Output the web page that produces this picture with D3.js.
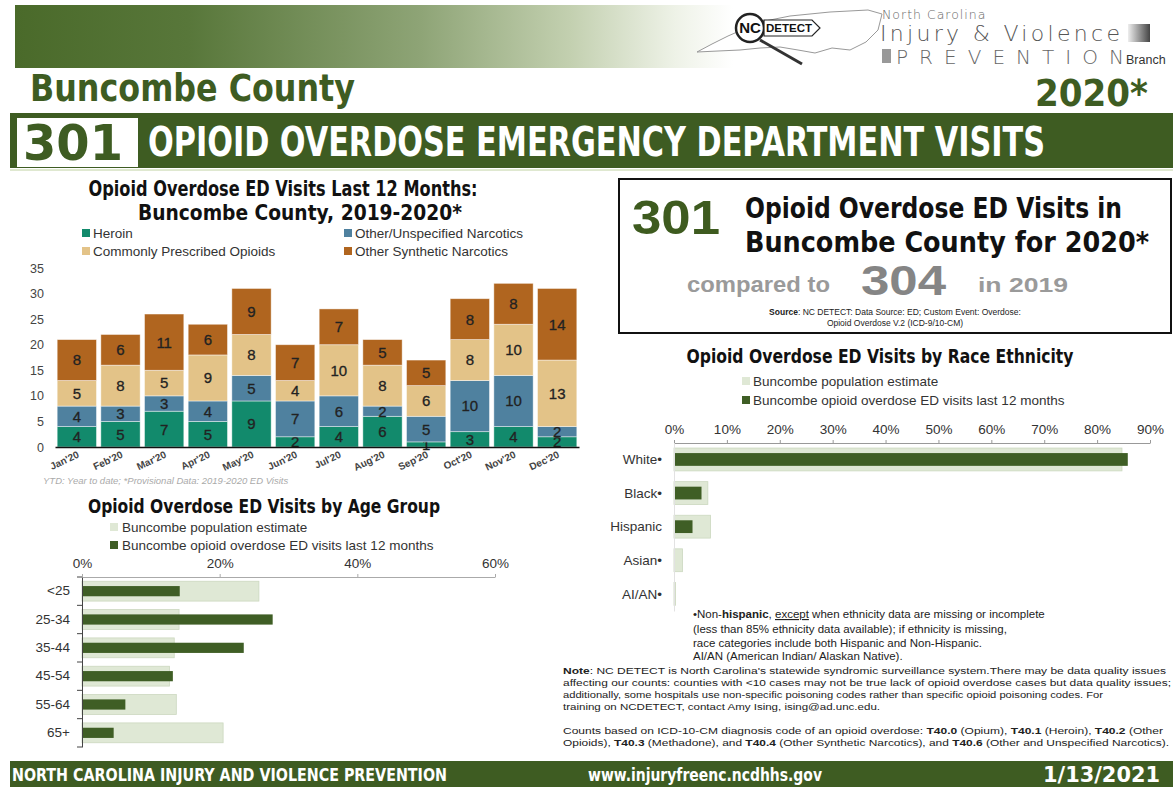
<!DOCTYPE html>
<html>
<head>
<meta charset="utf-8">
<script src="https://cdn.jsdelivr.net/npm/d3@7"></script>
<style>
html,body{margin:0;padding:0;background:#fff;}
svg{display:block;}
.cond{font-family:"Liberation Sans Narrow","DejaVu Sans Condensed",sans-serif;font-weight:bold;}
.sans{font-family:"Liberation Sans",Arial,sans-serif;}
.thin{font-family:"DejaVu Sans",sans-serif;font-weight:200;}
</style>
</head>
<body>
<svg id="page" width="1173" height="787"></svg>
<script>
// ---------- DATA ----------
const months = ["Jan'20","Feb'20","Mar'20","Apr'20","May'20","Jun'20","Jul'20","Aug'20","Sep'20","Oct'20","Nov'20","Dec'20"];
const heroin      = [4,5,7,5,9,2,4,6,1,3,4,2];
const otherUnspec = [4,3,3,4,5,7,6,2,5,10,10,2];
const commonRx    = [5,8,5,9,8,4,10,8,6,8,10,13];
const otherSynth  = [8,6,11,6,9,7,7,5,5,8,8,14];
const seriesNames = ["Heroin","Other/Unspecified Narcotics","Commonly Prescribed Opioids","Other Synthetic Narcotics"];
const countTicks  = [0,5,10,15,20,25,30,35];

const ageGroups = ["<25","25-34","35-44","45-54","55-64","65+"];
const agePop    = [25.7,14.1,13.4,12.7,13.7,20.5];
const ageVisits = [14.2,27.7,23.5,13.2,6.3,4.6];
const ageTicks  = [0,20,40,60];

const races      = ["White•","Black•","Hispanic","Asian•","AI/AN•"];
const racePop    = [84.7,6.4,6.9,1.6,0.3];
const raceVisits = [85.8,5.2,3.5,0,0.1];
const raceTicks  = [0,10,20,30,40,50,60,70,80,90];

const total2020 = 301, total2019 = 304;

// ---------- STYLE ----------
const GREEN = "#3e5c22";
const seriesColors = ["#128a6c","#4f819f","#e3c388","#b0651f"];
const LIGHT = "#dfe8d5", LIGHT_STROKE = "#cbd8bf", DARK = "#3f5e25";

const svg = d3.select("#page");

// ---------- HEADER ----------
const defs = svg.append("defs");
const grad = defs.append("linearGradient").attr("id","hdr").attr("x1","0").attr("x2","1");
[["0%","#4a6a2a"],["15%","#58773a"],["35%","#8ea476"],["48%","#c3d0b0"],["57%","#eef2e7"],["62%","#ffffff"]]
  .forEach(s=>grad.append("stop").attr("offset",s[0]).attr("stop-color",s[1]));
svg.append("rect").attr("x",15).attr("y",5).attr("width",1158).attr("height",63).attr("fill","url(#hdr)");

// logo (approximate)
const logo = svg.append("g");
logo.append("path")
  .attr("d","M697,52 L712,44 L728,36 L744,29 L760,22 L790,16 L830,12 L868,10 L882,14 L878,30 L866,42 L850,50 L832,48 L815,53 L798,50 L780,47 L760,48 L740,50 L718,51 Z")
  .attr("fill","#fff").attr("stroke","#999").attr("stroke-width",1);
logo.append("line").attr("x1",760).attr("y1",40).attr("x2",802).attr("y2",64).attr("stroke","#333").attr("stroke-width",3);
logo.append("circle").attr("cx",750).attr("cy",28).attr("r",14).attr("fill","#fff").attr("stroke","#222").attr("stroke-width",2.5);
logo.append("text").attr("class","sans").attr("x",750).attr("y",33).attr("text-anchor","middle")
  .attr("font-size",15).attr("font-weight","bold").attr("fill","#111").text("NC");
logo.append("path").attr("d","M764,20 L812,20 L820,28 L812,36 L764,36 Z").attr("fill","#fff").attr("stroke","#222").attr("stroke-width",1.2);
logo.append("text").attr("class","sans").attr("x",766).attr("y",32).attr("font-size",11).attr("font-weight","bold")
  .attr("fill","#111").attr("textLength",46).attr("lengthAdjust","spacingAndGlyphs").text("DETECT");
logo.append("text").attr("class","thin").attr("x",882).attr("y",19).attr("font-size",12.5).attr("fill","#666")
  .attr("letter-spacing",1).text("North Carolina");
logo.append("text").attr("class","thin").attr("x",880).attr("y",41).attr("font-size",22).attr("fill","#555")
  .attr("textLength",240).attr("lengthAdjust","spacing").text("Injury & Violence");
const sq = defs.append("linearGradient").attr("id","sq").attr("x1","0").attr("x2","1");
sq.append("stop").attr("offset","0%").attr("stop-color","#eee");
sq.append("stop").attr("offset","100%").attr("stop-color","#444");
logo.append("rect").attr("x",1128).attr("y",24).attr("width",22).attr("height",18).attr("fill","url(#sq)");
logo.append("rect").attr("x",882).attr("y",49).attr("width",9).attr("height",14).attr("fill","#999");
logo.append("text").attr("class","thin").attr("x",896).attr("y",64).attr("font-size",20).attr("fill","#666")
  .attr("textLength",228).attr("lengthAdjust","spacing").text("PREVENTION");
logo.append("text").attr("class","sans").attr("x",1126).attr("y",64).attr("font-size",12.5).attr("fill","#333").text("Branch");

svg.append("text").attr("class","cond").attr("x",30).attr("y",101).attr("font-size",37).attr("fill",GREEN)
  .attr("textLength",325).attr("lengthAdjust","spacingAndGlyphs").text("Buncombe County");
svg.append("text").attr("class","cond").attr("x",1148).attr("y",106).attr("text-anchor","end").attr("font-size",38).attr("fill",GREEN)
  .attr("textLength",113).attr("lengthAdjust","spacingAndGlyphs").text("2020*");

svg.append("rect").attr("x",10).attr("y",113).attr("width",1163).attr("height",55).attr("fill",GREEN);
svg.append("rect").attr("x",17).attr("y",118).attr("width",121).attr("height",49).attr("fill","#fff");
svg.append("text").attr("class","cond").attr("x",23).attr("y",160).attr("font-size",50).attr("fill",GREEN)
  .attr("textLength",100).attr("lengthAdjust","spacingAndGlyphs").text(String(total2020));
svg.append("text").attr("class","cond").attr("x",148).attr("y",156).attr("font-size",40).attr("fill","#fff")
  .attr("textLength",897).attr("lengthAdjust","spacingAndGlyphs").text("OPIOID OVERDOSE EMERGENCY DEPARTMENT VISITS");
svg.append("line").attr("x1",10).attr("x2",1173).attr("y1",170).attr("y2",170).attr("stroke","#dfe8d0").attr("stroke-width",2);

// ---------- STACKED BAR CHART ----------
const bc = svg.append("g");
bc.append("text").attr("class","cond").attr("x",283).attr("y",196).attr("text-anchor","middle").attr("font-size",21)
  .attr("fill","#111").attr("textLength",389).attr("lengthAdjust","spacingAndGlyphs").text("Opioid Overdose ED Visits Last 12 Months:");
bc.append("text").attr("class","cond").attr("x",300).attr("y",220).attr("text-anchor","middle").attr("font-size",21)
  .attr("fill","#111").attr("textLength",324).attr("lengthAdjust","spacingAndGlyphs").text("Buncombe County, 2019-2020*");

const legPos = [[82,233],[344,233],[82,251],[344,251]];
seriesNames.forEach((n,i)=>{
  bc.append("rect").attr("x",legPos[i][0]).attr("y",legPos[i][1]-4).attr("width",8).attr("height",8).attr("fill",seriesColors[i]);
  bc.append("text").attr("class","sans").attr("x",legPos[i][0]+11).attr("y",legPos[i][1]).attr("dy","0.35em")
    .attr("font-size",13.5).attr("fill","#333").text(n);
});

const table = months.map((m,i)=>({month:m, s0:heroin[i], s1:otherUnspec[i], s2:commonRx[i], s3:otherSynth[i]}));
const stack = d3.stack().keys(["s0","s1","s2","s3"])(table);
const x = d3.scaleBand().domain(months).range([55,579]).paddingInner(0.1).paddingOuter(0.05);
const y = d3.scaleLinear().domain([0,35]).range([447,268]);

stack.forEach((layer,li)=>{
  const g = bc.append("g");
  g.selectAll("rect").data(layer).join("rect")
    .attr("x",d=>x(d.data.month)).attr("width",x.bandwidth())
    .attr("y",d=>y(d[1])).attr("height",d=>y(d[0])-y(d[1]))
    .attr("fill",seriesColors[li]).attr("stroke","rgba(255,255,255,0.55)").attr("stroke-width",0.8);
  g.selectAll("text").data(layer).join("text").attr("class","sans")
    .attr("x",d=>x(d.data.month)+x.bandwidth()/2).attr("y",d=>(y(d[0])+y(d[1]))/2).attr("dy","0.36em")
    .attr("text-anchor","middle").attr("font-size",15).attr("fill","#222")
    .attr("stroke","#222").attr("stroke-width",0.3)
    .text(d=>d[1]-d[0]);
});

const yAx = bc.append("g").attr("transform","translate(50,0)")
  .call(d3.axisLeft(y).tickValues(countTicks).tickSize(0).tickPadding(6));
yAx.select(".domain").remove();
yAx.selectAll("text").attr("class","sans").attr("font-size",12.5).attr("fill","#444");

const xAx = bc.append("g").attr("transform","translate(0,447)")
  .call(d3.axisBottom(x).tickSize(0).tickPadding(0));
xAx.select(".domain").attr("stroke","#111").attr("stroke-width",1.6);
xAx.selectAll("text").attr("class","sans").attr("font-size",10).attr("font-weight","bold").attr("fill","#444")
  .attr("text-anchor","end").attr("dy",0)
  .attr("transform","translate(3,10) rotate(-25)");

bc.append("text").attr("class","sans").attr("x",43).attr("y",484).attr("font-size",9.5).attr("font-style","italic")
  .attr("fill","#aaa").text("YTD: Year to date; *Provisional Data: 2019-2020 ED Visits");

// ---------- AGE CHART ----------
const ac = svg.append("g");
ac.append("text").attr("class","cond").attr("x",264).attr("y",513).attr("text-anchor","middle").attr("font-size",19)
  .attr("fill","#111").attr("textLength",352).attr("lengthAdjust","spacingAndGlyphs").text("Opioid Overdose ED Visits by Age Group");
ac.append("rect").attr("x",110).attr("y",523).attr("width",8).attr("height",8).attr("fill",LIGHT);
ac.append("text").attr("class","sans").attr("x",122).attr("y",527).attr("dy","0.35em").attr("font-size",13.5).attr("fill","#333").text("Buncombe population estimate");
ac.append("rect").attr("x",110).attr("y",541).attr("width",8).attr("height",8).attr("fill",DARK);
ac.append("text").attr("class","sans").attr("x",122).attr("y",545).attr("dy","0.35em").attr("font-size",13.5).attr("fill","#333").text("Buncombe opioid overdose ED visits last 12 months");

const ax = d3.scaleLinear().domain([0,60]).range([82,495]);
const ay = d3.scaleBand().domain(ageGroups).range([577,747]);

ac.selectAll("rect.pop").data(ageGroups).join("rect").attr("class","pop")
  .attr("x",ax(0)).attr("y",d=>ay(d)+ay.bandwidth()*0.15).attr("height",ay.bandwidth()*0.7)
  .attr("width",(d,i)=>ax(agePop[i])-ax(0)).attr("fill",LIGHT).attr("stroke",LIGHT_STROKE).attr("stroke-width",0.8);
ac.selectAll("rect.vis").data(ageGroups).join("rect").attr("class","vis")
  .attr("x",ax(0)).attr("y",d=>ay(d)+ay.bandwidth()*0.32).attr("height",ay.bandwidth()*0.36)
  .attr("width",(d,i)=>ax(ageVisits[i])-ax(0)).attr("fill",DARK);

const aTop = ac.append("g").attr("transform","translate(0,577)")
  .call(d3.axisTop(ax).tickValues(ageTicks).tickFormat(d=>d+"%").tickSize(3).tickSizeOuter(0).tickPadding(6));
aTop.select(".domain").attr("stroke","#aaa");
aTop.selectAll(".tick line").attr("stroke","#aaa");
aTop.selectAll("text").attr("class","sans").attr("font-size",13.5).attr("fill","#333");

const aLeft = ac.append("g").attr("transform","translate(82,0)")
  .call(d3.axisLeft(ay).tickSize(0).tickPadding(12));
aLeft.select(".domain").attr("stroke","#444");
aLeft.selectAll("text").attr("class","sans").attr("font-size",13.5).attr("fill","#333");
ac.selectAll("line.atick").data(ageGroups.concat(["end"])).join("line").attr("class","atick")
  .attr("x1",77).attr("x2",82)
  .attr("y1",(d,i)=>ay.range()[0]+i*ay.step()).attr("y2",(d,i)=>ay.range()[0]+i*ay.step())
  .attr("stroke","#444");

// ---------- SUMMARY BOX ----------
const sb = svg.append("g");
sb.append("rect").attr("x",619).attr("y",179).attr("width",552).attr("height",154).attr("fill","#fff").attr("stroke","#111").attr("stroke-width",2);
sb.append("text").attr("class","sans").attr("x",632).attr("y",234).attr("font-size",48).attr("font-weight","bold").attr("fill","#3e5b1f")
  .attr("textLength",88).attr("lengthAdjust","spacingAndGlyphs").text(String(total2020));
sb.append("text").attr("class","cond").attr("x",745).attr("y",218).attr("font-size",28).attr("fill","#111")
  .attr("textLength",377).attr("lengthAdjust","spacingAndGlyphs").text("Opioid Overdose ED Visits in");
sb.append("text").attr("class","cond").attr("x",745).attr("y",252).attr("font-size",28).attr("fill","#111")
  .attr("textLength",404).attr("lengthAdjust","spacingAndGlyphs").text("Buncombe County for 2020*");
sb.append("text").attr("class","sans").attr("x",687).attr("y",292).attr("font-size",22).attr("font-weight","bold").attr("fill","#9a9a9a")
  .attr("textLength",143).attr("lengthAdjust","spacingAndGlyphs").text("compared to");
sb.append("text").attr("class","sans").attr("x",861).attr("y",295).attr("font-size",42).attr("font-weight","bold").attr("fill","#858585")
  .attr("textLength",85).attr("lengthAdjust","spacingAndGlyphs").text(String(total2019));
sb.append("text").attr("class","sans").attr("x",978).attr("y",292).attr("font-size",21).attr("font-weight","bold").attr("fill","#9a9a9a")
  .attr("textLength",90).attr("lengthAdjust","spacingAndGlyphs").text("in 2019");
const src = sb.append("text").attr("class","sans").attr("x",895).attr("y",315).attr("text-anchor","middle").attr("font-size",8.5).attr("fill","#222");
src.append("tspan").attr("font-weight","bold").text("Source");
src.append("tspan").text(": NC DETECT: Data Source: ED; Custom Event: Overdose:");
sb.append("text").attr("class","sans").attr("x",895).attr("y",326).attr("text-anchor","middle").attr("font-size",8.5).attr("fill","#222")
  .text("Opioid Overdose V.2 (ICD-9/10-CM)");

// ---------- RACE CHART ----------
const rc = svg.append("g");
rc.append("text").attr("class","cond").attr("x",880).attr("y",363).attr("text-anchor","middle").attr("font-size",19)
  .attr("fill","#111").attr("textLength",387).attr("lengthAdjust","spacingAndGlyphs").text("Opioid Overdose ED Visits by Race Ethnicity");
rc.append("rect").attr("x",742).attr("y",377).attr("width",8).attr("height",8).attr("fill",LIGHT);
rc.append("text").attr("class","sans").attr("x",753).attr("y",381).attr("dy","0.35em").attr("font-size",13.5).attr("fill","#333").text("Buncombe population estimate");
rc.append("rect").attr("x",742).attr("y",396).attr("width",8).attr("height",8).attr("fill",DARK);
rc.append("text").attr("class","sans").attr("x",753).attr("y",400).attr("dy","0.35em").attr("font-size",13.5).attr("fill","#333").text("Buncombe opioid overdose ED visits last 12 months");

const rx = d3.scaleLinear().domain([0,90]).range([674,1150]);
const ry = d3.scaleBand().domain(races).range([443,611]);

rc.selectAll("rect.pop").data(races).join("rect").attr("class","pop")
  .attr("x",rx(0)).attr("y",d=>ry(d)+ry.bandwidth()*0.15).attr("height",ry.bandwidth()*0.68)
  .attr("width",(d,i)=>rx(racePop[i])-rx(0)).attr("fill",LIGHT).attr("stroke",LIGHT_STROKE).attr("stroke-width",0.8);
rc.selectAll("rect.vis").data(races).join("rect").attr("class","vis")
  .attr("x",rx(0)).attr("y",d=>ry(d)+ry.bandwidth()*0.3).attr("height",ry.bandwidth()*0.38)
  .attr("width",(d,i)=>rx(raceVisits[i])-rx(0)).attr("fill",DARK);

const rTop = rc.append("g").attr("transform","translate(0,443)")
  .call(d3.axisTop(rx).tickValues(raceTicks).tickFormat(d=>d+"%").tickSize(3).tickSizeOuter(0).tickPadding(6));
rTop.select(".domain").attr("stroke","#999");
rTop.selectAll(".tick line").attr("stroke","#999");
rTop.selectAll("text").attr("class","sans").attr("font-size",13.5).attr("fill","#333");

const rLeft = rc.append("g").attr("transform","translate(674,0)")
  .call(d3.axisLeft(ry).tickSize(0).tickPadding(12));
rLeft.select(".domain").attr("stroke","#e2e2e2");
rLeft.selectAll("text").attr("class","sans").attr("font-size",13.5).attr("fill","#333");

// ---------- NOTES ----------
const nt = svg.append("g").attr("class","sans");
const n1 = nt.append("text").attr("x",693).attr("y",618).attr("font-size",11.5).attr("fill","#222");
n1.append("tspan").text("•Non-");
n1.append("tspan").attr("font-weight","bold").text("hispanic");
n1.append("tspan").text(", ");
n1.append("tspan").attr("text-decoration","underline").text("except");
n1.append("tspan").text(" when ethnicity data are missing or incomplete");
nt.append("text").attr("x",693).attr("y",633).attr("font-size",11.5).attr("fill","#222").text("(less than 85% ethnicity data available); if ethnicity is missing,");
nt.append("text").attr("x",693).attr("y",647).attr("font-size",11.5).attr("fill","#222").text("race categories include both Hispanic and Non-Hispanic.");
nt.append("text").attr("x",693).attr("y",660).attr("font-size",11.5).attr("fill","#222").text("AI/AN (American Indian/ Alaskan Native).");

const noteLines = [
  [["b","Note"],["n",": NC DETECT is North Carolina's statewide syndromic surveillance system.There may be data quality issues"]],
  [["n","affecting our counts: counties with <10 cases may not be true lack of opioid overdose cases but data quality issues;"]],
  [["n","additionally, some hospitals use non-specific poisoning codes rather than specific opioid poisoning codes. For"]],
  [["n","training on NCDETECT, contact Amy Ising, ising@ad.unc.edu."]],
  [],
  [["n","Counts based on ICD-10-CM diagnosis code of an opioid overdose: "],["b","T40.0"],["n"," (Opium), "],["b","T40.1"],["n"," (Heroin), "],["b","T40.2"],["n"," (Other"]],
  [["n","Opioids), "],["b","T40.3"],["n"," (Methadone), and "],["b","T40.4"],["n"," (Other Synthetic Narcotics), and "],["b","T40.6"],["n"," (Other and Unspecified Narcotics)."]]
];
const noteY = [674,686,698,710,0,734,746];
const noteW = [603,608,540,317,0,600,606];
noteLines.forEach((ln,i)=>{
  if(!ln.length) return;
  const t = nt.append("text").attr("x",563).attr("y",noteY[i]).attr("font-size",9.6).attr("fill","#222");
  if(noteW[i]) t.attr("textLength",noteW[i]).attr("lengthAdjust","spacingAndGlyphs");
  ln.forEach(p=>{ const s=t.append("tspan").text(p[1]); if(p[0]==="b") s.attr("font-weight","bold"); });
});

// ---------- FOOTER ----------
svg.append("rect").attr("x",10).attr("y",761).attr("width",1163).attr("height",26).attr("fill",GREEN);
svg.append("text").attr("class","cond").attr("x",12).attr("y",781).attr("font-size",18).attr("fill","#fff")
  .attr("textLength",435).attr("lengthAdjust","spacingAndGlyphs").text("NORTH CAROLINA INJURY AND VIOLENCE PREVENTION");
svg.append("text").attr("class","cond").attr("x",588).attr("y",781).attr("font-size",18).attr("fill","#fff")
  .attr("textLength",234).attr("lengthAdjust","spacingAndGlyphs").text("www.injuryfreenc.ncdhhs.gov");
svg.append("text").attr("class","cond").attr("x",1043).attr("y",782).attr("font-size",21).attr("fill","#fff")
  .attr("textLength",117).attr("lengthAdjust","spacingAndGlyphs").text("1/13/2021");
</script>
</body>
</html>
